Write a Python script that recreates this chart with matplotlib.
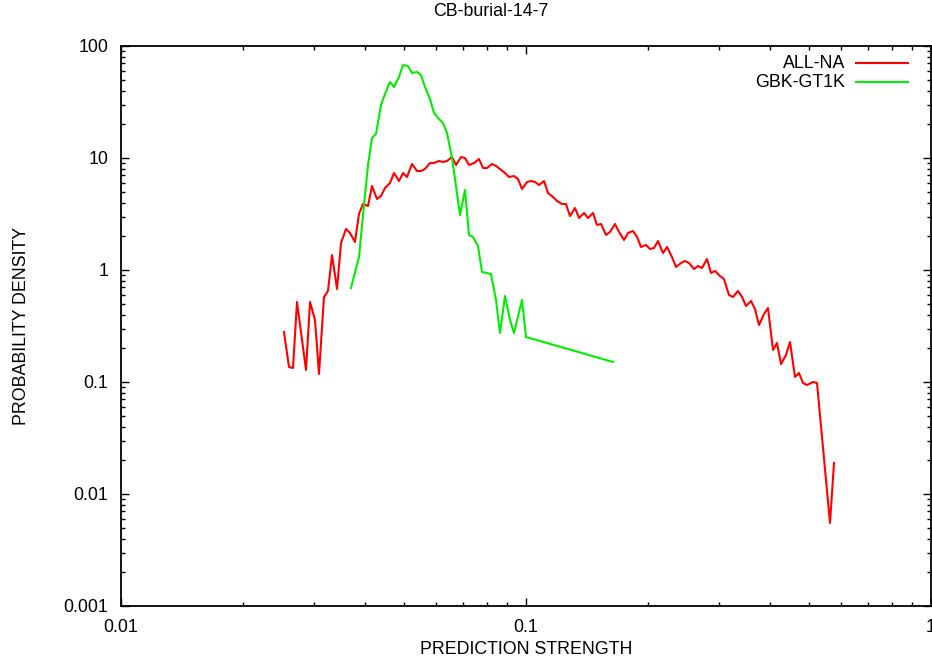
import matplotlib
matplotlib.use("Agg")
import matplotlib.pyplot as plt
from matplotlib.ticker import LogLocator, FixedLocator, NullFormatter

plt.rcParams['font.family'] = ['Liberation Sans', 'DejaVu Sans']

title = "CB-burial-14-7"
xlabel = "PREDICTION STRENGTH"
ylabel = "PROBABILITY DENSITY"
series_names = ["ALL-NA", "GBK-GT1K"]

all_na_x = [0.02526, 0.02599, 0.02659, 0.02720, 0.02863, 0.02929, 0.03013, 0.03082,
            0.03171, 0.03244, 0.03319, 0.03415, 0.03493, 0.03594, 0.03676, 0.03782,
            0.03869, 0.03958, 0.04073, 0.04166, 0.04286, 0.04385, 0.04486, 0.04615,
            0.04721, 0.04857, 0.04969, 0.05083, 0.05230, 0.05381, 0.05505, 0.05631,
            0.05794, 0.05927, 0.06098, 0.06238, 0.06382, 0.06566, 0.06717, 0.06910,
            0.07069, 0.07232, 0.07440, 0.07655, 0.07831, 0.08011, 0.08242, 0.08432,
            0.08625, 0.08874, 0.09078, 0.09340, 0.09555, 0.09775, 0.1006, 0.1029,
            0.1053, 0.1077, 0.1108, 0.1133, 0.1166, 0.1193, 0.1227, 0.1255,
            0.1284, 0.1321, 0.1352, 0.1391, 0.1423, 0.1464, 0.1497, 0.1532,
            0.1576, 0.1612, 0.1659, 0.1697, 0.1746, 0.1786, 0.1837, 0.1880,
            0.1923, 0.1978, 0.2024, 0.2070, 0.2118, 0.2179, 0.2229, 0.2293,
            0.2346, 0.2414, 0.2469, 0.2526, 0.2599, 0.2659, 0.2720, 0.2798,
            0.2863, 0.2929, 0.3013, 0.3082, 0.3171, 0.3244, 0.3338, 0.3415,
            0.3493, 0.3594, 0.3676, 0.3761, 0.3869, 0.3958, 0.4073, 0.4166,
            0.4262, 0.4385, 0.4486, 0.4615, 0.4721, 0.4830, 0.4941, 0.5112,
            0.5230, 0.5631, 0.5761]
all_na_y = [0.2795, 0.1361, 0.1333, 0.5180, 0.1280, 0.5180, 0.3577, 0.1179,
            0.5741, 0.6494, 1.361, 0.6767, 1.742, 2.323, 2.140, 1.778,
            3.162, 3.884, 3.728, 5.623, 4.304, 4.578, 5.396, 5.981,
            7.346, 6.232, 7.346, 6.767, 8.839, 7.654, 7.654, 7.975,
            9.023, 9.023, 9.401, 9.210, 9.401, 10.21, 8.659, 10.21,
            10.00, 8.659, 9.023, 9.797, 8.142, 8.142, 8.839, 8.483,
            7.975, 7.346, 6.767, 6.906, 6.494, 5.287, 6.105, 6.232,
            6.105, 5.740, 6.232, 4.870, 4.486, 4.131, 3.884, 3.884,
            3.035, 3.577, 2.913, 3.228, 2.913, 3.228, 2.522, 2.575,
            2.054, 2.184, 2.575, 2.184, 1.853, 2.140, 2.230, 1.971,
            1.605, 1.672, 1.540, 1.572, 1.815, 1.418, 1.605, 1.306,
            1.064, 1.155, 1.203, 1.155, 1.021, 1.086, 1.042, 1.254,
            0.9402, 0.9796, 0.8840, 0.8311, 0.5981, 0.5741, 0.6494, 0.5741,
            0.4771, 0.5287, 0.4485, 0.3228, 0.4047, 0.4578, 0.1931, 0.2229,
            0.1448, 0.1742, 0.2276, 0.1108, 0.1203, 0.0980, 0.0940, 0.1000,
            0.0980, 0.005509, 0.01891]

gbk_x = [0.03697, 0.03869, 0.03981, 0.04073, 0.04166, 0.04262, 0.04385, 0.04486,
         0.04615, 0.04721, 0.04857, 0.04969, 0.05112, 0.05230, 0.05381, 0.05505,
         0.05631, 0.05794, 0.05927, 0.06098, 0.06238, 0.06382, 0.06566, 0.06717,
         0.06871, 0.07069, 0.07232, 0.07398, 0.07611, 0.07787, 0.08195, 0.08432,
         0.08625, 0.08874, 0.09130, 0.09340, 0.09775, 0.1000, 0.1640]
gbk_y = [0.6907, 1.306, 3.805, 8.659, 15.09, 16.38, 29.73, 37.28,
         47.71, 43.04, 52.87, 67.66, 66.28, 57.40, 58.57, 55.07,
         43.04, 33.64, 25.21, 22.29, 20.53, 16.72, 10.00, 5.623,
         3.098, 5.179, 2.054, 1.971, 1.638, 0.9597, 0.9210, 0.5397,
         0.2738, 0.5860, 0.3577, 0.2738, 0.5397, 0.2522, 0.1509]

xlim = (0.01, 1.0)
ylim = (0.001, 100.0)
x_ticks = [0.01, 0.1, 1]
x_tick_labels = ["0.01", "0.1", "1"]
y_ticks = [0.001, 0.01, 0.1, 1, 10, 100]
y_tick_labels = ["0.001", "0.01", "0.1", "1", "10", "100"]

fig = plt.figure(figsize=(9.32, 6.63), dpi=100)
ax = fig.add_axes([121/932, 1-606/663, 810/932, 560/663])

ax.plot(all_na_x, all_na_y, color='#ff0000', lw=1.5)
ax.plot(gbk_x, gbk_y, color='#00ee00', lw=1.5)

ax.set_xscale('log')
ax.set_yscale('log')
ax.set_xlim(*xlim)
ax.set_ylim(*ylim)
ax.set_xticks(x_ticks)
ax.set_xticklabels(x_tick_labels)
ax.set_yticks(y_ticks)
ax.set_yticklabels(y_tick_labels)
ax.xaxis.set_minor_locator(LogLocator(base=10, subs=range(2, 10)))
ax.yaxis.set_minor_locator(LogLocator(base=10, subs=range(2, 10)))
ax.xaxis.set_minor_formatter(NullFormatter())
ax.yaxis.set_minor_formatter(NullFormatter())

fs = 12.8
ax.tick_params(which='both', direction='in', top=True, right=True, labelsize=fs, width=1.0)
ax.tick_params(which='major', length=6, pad=9)
ax.tick_params(which='minor', length=3)
for s in ax.spines.values():
    s.set_linewidth(1.3)

ax.set_xlabel(xlabel, fontsize=fs)
ax.xaxis.set_label_coords(0.5, -0.063)
ax.set_ylabel(ylabel, fontsize=fs)
ax.yaxis.set_label_coords(-0.112, 0.5)

fig.text(491/932, 1-12/663, title, ha='center', va='center', fontsize=fs)

# legend (key drawn at top right, text right-aligned, sample line on the right)
colors = ['#ff0000', '#00ee00']
rows = [0.9696, 0.9357]
for name, c, yy in zip(series_names, colors, rows):
    ax.text(0.8938, yy, name, transform=ax.transAxes, ha='right', va='center', fontsize=fs)
    ax.plot([0.9074, 0.9716], [yy, yy], transform=ax.transAxes, color=c, lw=1.5)

fig.savefig("out.png", dpi=100)
